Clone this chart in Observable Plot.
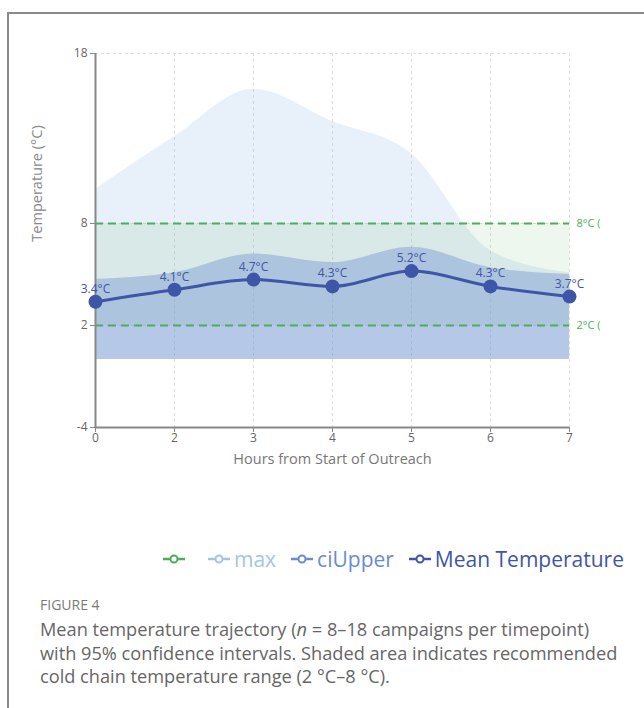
<!DOCTYPE html>
<html>
<head>
<meta charset="utf-8">
<script src="https://cdn.jsdelivr.net/npm/d3@7"></script>
<script src="https://cdn.jsdelivr.net/npm/@observablehq/plot@0.6"></script>
<style>
  html, body { margin: 0; padding: 0; background: #fff; }
  body { width: 644px; height: 708px; position: relative; overflow: hidden; font-family: "Open Sans", sans-serif; }
  #frame { position: absolute; left: 7px; top: 12px; width: 700px; height: 800px; border-left: 2px solid #8a8a8a; border-top: 2px solid #8a8a8a; }
  #chart { position: absolute; left: 10px; top: 15px; }
  #chart svg { overflow: hidden; }
  #legend { position: absolute; left: 162px; top: 545px; display: flex; align-items: center; font-size: 21px; white-space: nowrap; }
  #legend .item { display: flex; align-items: center; margin-right: 14px; }
  #legend .item svg { margin-right: 3px; }
  #cap { position: absolute; left: 40px; top: 595px; width: 604px; color: #666; }
  #cap .fig { font-size: 14px; color: #7a7a7a; margin-bottom: 4px; }
  #cap .txt { font-size: 18.2px; line-height: 23.7px; white-space: nowrap; }
</style>
</head>
<body>
<div id="frame"></div>
<div id="chart"></div>
<div id="legend"></div>
<div id="cap">
  <div class="fig">FIGURE 4</div>
  <div class="txt">Mean temperature trajectory (<i>n</i> = 8–18 campaigns per timepoint)<br>with 95% confidence intervals. Shaded area indicates recommended<br>cold chain temperature range (2 °C–8 °C).</div>
</div>
<script>
const hours = [0, 2, 3, 4, 5, 6, 7];
const meanTemp = [3.4, 4.1, 4.7, 4.3, 5.2, 4.3, 3.7];
const ciUpper = [4.7, 5.1, 6.2, 5.7, 6.6, 5.4, 5.0];
const maxTemp = [10.0, 13.1, 15.9, 14.0, 12.1, 6.4, 5.1];
const yTicks = [18, 8, 2, -4];
const refLines = [{v: 8, label: "8°C (Max)"}, {v: 2, label: "2°C (Min)"}];
const legendItems = [
  {label: "", color: "#4cae5a"},
  {label: "max", color: "#a3c4e8"},
  {label: "ciUpper", color: "#6b8cce"},
  {label: "Mean Temperature", color: "#3f55a8"}
];

const data = hours.map((h, i) => ({hour: h, mean: meanTemp[i], ciUpper: ciUpper[i], max: maxTemp[i]}));

const green = "#4cae5a";
const chart = Plot.plot({
  width: 591,
  height: 462,
  marginLeft: 85,
  marginRight: 32,
  marginTop: 38,
  marginBottom: 50,
  style: {fontFamily: "Open Sans, sans-serif", overflow: "hidden", background: "transparent"},
  x: {type: "point", domain: hours, padding: 0},
  y: {domain: [-4, 18]},
  marks: [
    Plot.ruleX(hours, {stroke: "#ddd", strokeDasharray: "3 3"}),
    Plot.ruleY(yTicks, {stroke: "#ddd", strokeDasharray: "3 3"}),
    Plot.areaY(data, {x: "hour", y: "max", curve: "monotone-x", fill: "#a3c4e8", fillOpacity: 0.25}),
    Plot.areaY(data, {x: "hour", y1: 2, y2: 8, fill: green, fillOpacity: 0.1}),
    Plot.areaY(data, {x: "hour", y: "ciUpper", curve: "monotone-x", fill: "#6b8cce", fillOpacity: 0.4}),
    Plot.ruleY(refLines, {y: "v", stroke: green, strokeWidth: 2, strokeDasharray: "8 5"}),
    Plot.text(refLines, {x: () => 7, y: "v", text: "label", textAnchor: "start", dx: 7, fill: green, fontSize: 11}),
    Plot.ruleX([0], {stroke: "#888", strokeWidth: 2}),
    Plot.ruleY([-4], {stroke: "#888", strokeWidth: 2}),
    Plot.axisY({ticks: yTicks, tickSize: 5, tickPadding: 3, stroke: "#888", fill: "#666", fontSize: 12, label: null, tickFormat: d => `${d}`}),
    Plot.axisX({ticks: hours, tickSize: 5, tickPadding: 1, stroke: "#888", fill: "#666", fontSize: 12, label: null, tickFormat: d => `${d}`}),
    Plot.text(["Temperature (°C)"], {frameAnchor: "left", textAnchor: "middle", dx: -58, dy: -57, rotate: -90, fill: "#888", fontSize: 14.5}),
    Plot.text(["Hours from Start of Outreach"], {frameAnchor: "bottom", dy: 36, fill: "#777", fontSize: 14.5}),
    Plot.line(data, {x: "hour", y: "mean", curve: "monotone-x", stroke: "#3f55a8", strokeWidth: 3}),
    Plot.dot(data, {x: "hour", y: "mean", r: 7, fill: "#3f55a8"}),
    Plot.text(data, {x: "hour", y: "mean", text: d => d.mean.toFixed(1) + "°C", lineAnchor: "bottom", dy: -9, fill: "#3f55a8", fontSize: 12})
  ]
});
document.getElementById("chart").appendChild(chart);

const leg = document.getElementById("legend");
for (const it of legendItems) {
  const div = document.createElement("div");
  div.className = "item";
  div.innerHTML = `<svg width="24" height="14"><line x1="1" y1="7" x2="23" y2="7" stroke="${it.color}" stroke-width="2.5"/><circle cx="12" cy="7" r="3.5" fill="#fff" stroke="${it.color}" stroke-width="2"/></svg>` +
    (it.label ? `<span style="color:${it.color}">${it.label}</span>` : `<span style="width:4px"></span>`);
  leg.appendChild(div);
}
</script>
</body>
</html>
